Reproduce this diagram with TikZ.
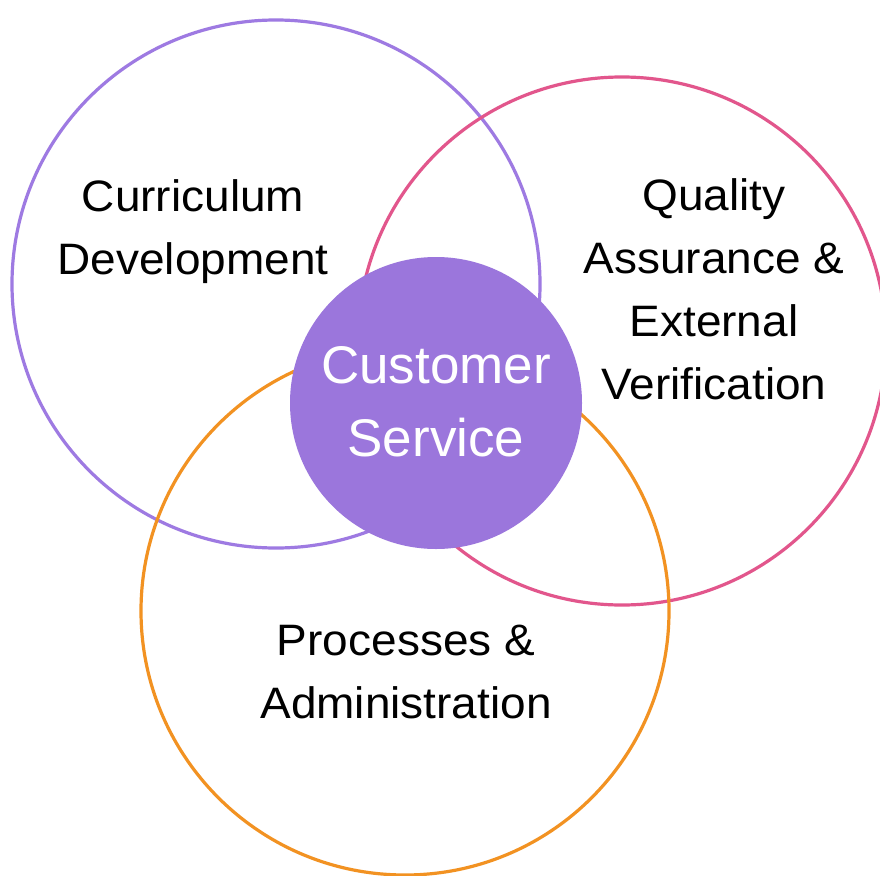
\documentclass[tikz,border=0pt]{standalone}
\usepackage{fontspec}
\setmainfont{Liberation Sans}
\newfontfamily\labelfont[FakeStretch=1.045]{Liberation Sans}
\definecolor{cdpurple}{RGB}{158,122,226}
\definecolor{cspurple}{RGB}{155,118,220}
\definecolor{qapink}{RGB}{226,86,140}
\definecolor{paorange}{RGB}{242,146,34}
\tikzset{
  ring/.style={line width=3.2pt},
  label/.style={align=center, text=black, font=\labelfont\fontsize{44}{63}\selectfont, inner sep=0pt},
  hub/.style={circle, fill=cspurple, minimum size=292pt, inner sep=0pt},
  hubtext/.style={text=white, align=center, inner sep=0pt, font=\fontsize{53}{73}\selectfont}
}
\begin{document}
\begin{tikzpicture}[x=1pt,y=-1pt]
  \clip (0,0) rectangle (880,875);
  \fill[white] (0,0) rectangle (880,875);
  \draw[ring, draw=cdpurple] (276,284) circle (264);
  \draw[ring, draw=qapink] (622,341) circle (264);
  \draw[ring, draw=paorange] (405,611) circle (264);
  \node[hub] (cs) at (436,403) {};
  \node[hubtext] (cst) at (436,402) {Customer\\Service};
  \node[label] (cd) at (193,232) {Curriculum\\Development};
  \node[label] (qa) at (714,289) {Quality\\Assurance \&\\External\\Verification};
  \node[label] (pa) at (406,672) {Processes \&\\Administration};
\end{tikzpicture}
\end{document}
